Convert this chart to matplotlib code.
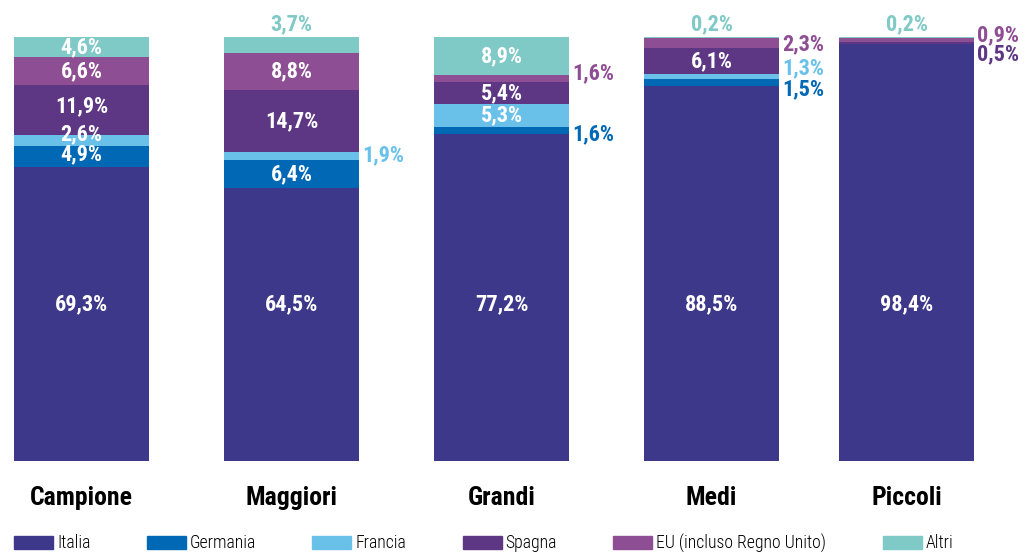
import numpy as np
import matplotlib.pyplot as plt
from matplotlib.patches import Patch

plt.rcParams['font.family'] = ['Roboto Condensed', 'DejaVu Sans']

categories = ['Campione', 'Maggiori', 'Grandi', 'Medi', 'Piccoli']
series = ['Italia', 'Germania', 'Francia', 'Spagna', 'EU (incluso Regno Unito)', 'Altri']
italia = [69.3, 64.5, 77.2, 88.5, 98.4]
germania = [4.9, 6.4, 1.6, 1.5, 0.0]
francia = [2.6, 1.9, 5.3, 1.3, 0.0]
spagna = [11.9, 14.7, 5.4, 6.1, 0.5]
eu = [6.6, 8.8, 1.6, 2.3, 0.9]
altri = [4.6, 3.7, 8.9, 0.2, 0.2]
values = [italia, germania, francia, spagna, eu, altri]

colors = ['#3d388a', '#0068b4', '#69c1ea', '#5e3784', '#8e4e94', '#7fc9c6']

# where each label goes: 'in' inside the segment, 'top' above the bar, or a y for labels right of the bar
placement = {
    (1, 5): 'top', (1, 2): 72.2,
    (2, 4): 91.5, (2, 1): 77.1,
    (3, 5): 'top', (3, 4): 98.3, (3, 2): 92.7, (3, 1): 87.7,
    (4, 5): 'top', (4, 4): 100.5, (4, 3): 95.8,
}
# small nudges for crowded inside labels
nudge = {(0, 2): 1.6, (0, 1): 0.5, (0, 3): 0.8}

xpos = np.array([0, 1, 2, 3, 3.93])
width = 0.643

fig = plt.figure(figsize=(10.3, 5.52), dpi=100)
ax = fig.add_axes([0, 91 / 552, 1, 424 / 552])

bottom = np.zeros(len(categories))
for s, (vals, col) in enumerate(zip(values, colors)):
    vals = np.array(vals)
    ax.bar(xpos, vals, width, bottom=bottom, color=col, label=series[s])
    for b, v in enumerate(vals):
        if v == 0:
            continue
        txt = f'{v:.1f}%'.replace('.', ',')
        where = placement.get((b, s), 'in')
        if s == 0:
            ax.text(xpos[b], 37, txt, ha='center', va='center', color='white',
                    fontsize=16, fontweight='bold')
        elif where == 'in':
            ax.text(xpos[b], bottom[b] + v / 2 + nudge.get((b, s), 0), txt,
                    ha='center', va='center', color='white', fontsize=16,
                    fontweight='bold')
        elif where == 'top':
            ax.text(xpos[b], 103.1, txt, ha='center', va='center', color=col,
                    fontsize=16, fontweight='bold', clip_on=False)
        else:
            ax.text(xpos[b] + width / 2 + 0.015, where, txt, ha='left', va='center',
                    color=col, fontsize=16, fontweight='bold', clip_on=False)
    bottom += vals

ax.set_xlim(-81.5 / 210, (1030 - 81.5) / 210)
ax.set_ylim(0, 100)
ax.axis('off')

for b, cat in enumerate(categories):
    ax.text(xpos[b], -8.7, cat, ha='center', va='center', fontsize=18.5,
            fontweight='bold', color='black', clip_on=False)

handles = [Patch(color=c, label=l) for c, l in zip(colors, series)]
fig.legend(handles=handles, loc='center left', bbox_to_anchor=(0.0136, 9 / 552),
           ncol=6, frameon=False, prop={'size': 12.8, 'weight': 300},
           handlelength=2.2, handleheight=0.75, handletextpad=0.22,
           columnspacing=3.17, borderpad=0, borderaxespad=0)

fig.savefig('out.png', dpi=100)
